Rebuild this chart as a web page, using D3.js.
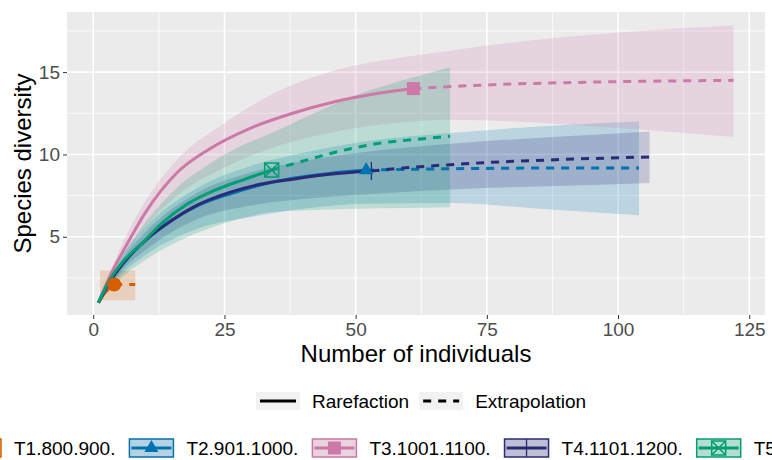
<!DOCTYPE html>
<html>
<head>
<meta charset="utf-8">
<script src="https://cdn.jsdelivr.net/npm/d3@7"></script>
<style>
  body { margin: 0; background: #fff; }
  text { font-family: "Liberation Sans", Arial, sans-serif; }
</style>
</head>
<body>
<svg id="chart" width="772" height="460"></svg>
<script>
var groups = ['T1.800.900.', 'T2.901.1000.', 'T3.1001.1100.', 'T4.1101.1200.', 'T5.1201.1300.'];
var colors = ['#D55E00', '#0072B2', '#CC79A7', '#2B2A78', '#009E73'];
var shapes = ['circle', 'triangle', 'square', 'plus', 'squareCross'];
var methods = ['Rarefaction', 'Extrapolation'];
var xTicks = [0, 25, 50, 75, 100, 125];
var yTicks = [5, 10, 15];

// [individuals, diversity]
var t1Rare = [[1, 1], [2, 1.5], [3, 1.85], [4, 2.1]];
var t2Rare = [[1, 1], [3, 2.2], [6, 3.5], [10, 4.8], [15, 6.0], [20, 6.9], [26, 7.6], [32, 8.15], [38, 8.55], [45, 8.85], [52, 9.05]];
var t3Rare = [[1, 1], [3, 2.5], [6, 4.3], [10, 6.5], [16, 8.9], [22, 10.3], [30, 11.6], [38, 12.5], [46, 13.2], [54, 13.7], [61, 14.0]];
var t4Rare = [[1, 1], [3, 2.2], [6, 3.5], [10, 4.8], [15, 6.0], [20, 6.95], [26, 7.7], [32, 8.2], [38, 8.5], [45, 8.8], [53, 9.0]];
var t5Rare = [[1, 1], [3, 2.3], [6, 3.6], [9, 4.5], [13, 5.8], [18, 7.0], [23, 7.8], [28, 8.4], [34, 9.05]];

var t1Extra = [[4, 2.1], [6, 2.1], [8, 2.1]];
var t2Extra = [[52, 9.05], [65, 9.12], [78, 9.16], [91, 9.18], [104, 9.18]];
var t3Extra = [[61, 14.0], [70, 14.15], [80, 14.28], [90, 14.36], [100, 14.42], [110, 14.46], [122, 14.5]];
var t4Extra = [[53, 9.0], [60, 9.2], [70, 9.42], [80, 9.58], [90, 9.7], [106, 9.85]];
var t5Extra = [[34, 9.05], [40, 9.6], [49, 10.35], [55, 10.7], [61, 10.9], [68, 11.1]];

// [individuals, lower, upper]
var t1Band = [[1.3, 1.15, 2.95], [8, 1.15, 2.95]];
var t2Band = [[1, 1, 1], [5, 2.6, 3.6], [10, 3.9, 5.6], [20, 5.5, 8.0], [30, 6.2, 9.3], [40, 6.7, 10.1], [52, 7.0, 10.8], [68, 7.05, 11.3], [85, 6.7, 11.7], [104, 6.3, 12.0]];
var t3Band = [[1, 1, 1], [5, 3.4, 4.2], [10, 5.6, 7.2], [16, 7.5, 9.7], [25, 9.2, 11.9], [35, 10.5, 13.8], [45, 11.3, 15.0], [61, 12.0, 16.0], [68, 12.1, 16.3], [80, 12.0, 16.8], [100, 11.6, 17.4], [122, 11.06, 17.85]];
var t4Band = [[1, 1, 1], [5, 2.8, 3.4], [10, 4.2, 5.3], [20, 6.1, 7.7], [30, 6.9, 8.9], [40, 7.3, 9.6], [53, 7.6, 10.2], [70, 7.9, 10.7], [90, 8.1, 11.1], [106, 8.27, 11.4]];
var t5Band = [[1, 1, 1], [5, 2.4, 3.5], [10, 3.6, 5.9], [16, 4.7, 8.0], [22, 5.5, 9.4], [28, 6.1, 10.5], [34, 6.5, 11.3], [40, 6.6, 12.2], [50, 6.7, 13.6], [60, 6.75, 14.6], [68, 6.8, 15.3]];

var rareData = [t1Rare, t2Rare, t3Rare, t4Rare, t5Rare];
var extraData = [t1Extra, t2Extra, t3Extra, t4Extra, t5Extra];
var bandData = [t1Band, t2Band, t3Band, t4Band, t5Band];

var svg = d3.select('#chart');
var panel = { left: 67, top: 12, right: 765, bottom: 315 };

var x = d3.scaleLinear().domain([-5, 128]).range([panel.left, panel.right]);
var y = d3.scaleLinear().domain([0.25, 18.65]).range([panel.bottom, panel.top]);

svg.append('rect')
  .attr('x', panel.left).attr('y', panel.top)
  .attr('width', panel.right - panel.left).attr('height', panel.bottom - panel.top)
  .attr('fill', '#EBEBEB');

// minor grid sits halfway between major breaks (ggplot style)
var xMinor = d3.pairs(xTicks).map(function (p) { return (p[0] + p[1]) / 2; });
var yMinor = [yTicks[0] - 2.5].concat(d3.pairs(yTicks).map(function (p) { return (p[0] + p[1]) / 2; }), [yTicks[yTicks.length - 1] + 2.5]);

var grid = svg.append('g');
grid.selectAll('.xminor').data(xMinor).enter().append('line')
  .attr('x1', x).attr('x2', x).attr('y1', panel.top).attr('y2', panel.bottom)
  .attr('stroke', '#fff').attr('stroke-width', 0.8);
grid.selectAll('.yminor').data(yMinor).enter().append('line')
  .attr('y1', y).attr('y2', y).attr('x1', panel.left).attr('x2', panel.right)
  .attr('stroke', '#fff').attr('stroke-width', 0.8);
grid.selectAll('.xmajor').data(xTicks).enter().append('line')
  .attr('x1', x).attr('x2', x).attr('y1', panel.top).attr('y2', panel.bottom)
  .attr('stroke', '#fff').attr('stroke-width', 1.6);
grid.selectAll('.ymajor').data(yTicks).enter().append('line')
  .attr('y1', y).attr('y2', y).attr('x1', panel.left).attr('x2', panel.right)
  .attr('stroke', '#fff').attr('stroke-width', 1.6);

var area = d3.area()
  .x(function (d) { return x(d[0]); })
  .y0(function (d) { return y(d[1]); })
  .y1(function (d) { return y(d[2]); })
  .curve(d3.curveMonotoneX);

var line = d3.line()
  .x(function (d) { return x(d[0]); })
  .y(function (d) { return y(d[1]); })
  .curve(d3.curveMonotoneX);

svg.append('g').selectAll('path').data(bandData).enter().append('path')
  .attr('d', area)
  .attr('fill', function (d, i) { return colors[i]; })
  .attr('fill-opacity', 0.2);

svg.append('g').selectAll('path').data(rareData).enter().append('path')
  .attr('d', line)
  .attr('fill', 'none')
  .attr('stroke', function (d, i) { return colors[i]; })
  .attr('stroke-width', 3);

svg.append('g').selectAll('path').data(extraData).enter().append('path')
  .attr('d', line)
  .attr('fill', 'none')
  .attr('stroke', function (d, i) { return colors[i]; })
  .attr('stroke-width', 3)
  .attr('stroke-dasharray', '8,7');

function drawMarker(g, shape, color) {
  if (shape === 'circle') {
    g.append('circle').attr('r', 7).attr('fill', color);
  } else if (shape === 'triangle') {
    g.append('path').attr('d', d3.symbol(d3.symbolTriangle, 85)()).attr('fill', color);
  } else if (shape === 'square') {
    g.append('rect').attr('x', -6.5).attr('y', -6.5).attr('width', 13).attr('height', 13).attr('fill', color);
  } else if (shape === 'plus') {
    g.append('path').attr('d', 'M-8,0H8M0,-9V9').attr('stroke', color).attr('stroke-width', 1.3);
  } else {
    g.append('path')
      .attr('d', 'M-7,-7H7V7H-7ZM-7,-7L7,7M7,-7L-7,7')
      .attr('fill', 'none').attr('stroke', color).attr('stroke-width', 1.5);
  }
}

// observed point = last rarefaction sample; the plus goes underneath the others
var markerOrder = [3, 0, 1, 2, 4];
markerOrder.forEach(function (i) {
  var d = rareData[i];
  var last = d[d.length - 1];
  var g = svg.append('g').attr('transform', 'translate(' + x(last[0]) + ',' + y(last[1]) + ')');
  drawMarker(g, shapes[i], colors[i]);
});

// axes
var xAxis = svg.append('g')
  .attr('transform', 'translate(0,' + panel.bottom + ')')
  .call(d3.axisBottom(x).tickValues(xTicks).tickSize(4).tickPadding(4));
var yAxis = svg.append('g')
  .attr('transform', 'translate(' + panel.left + ',0)')
  .call(d3.axisLeft(y).tickValues(yTicks).tickSize(4).tickPadding(3));
[xAxis, yAxis].forEach(function (a) {
  a.select('.domain').remove();
  a.selectAll('.tick line').attr('stroke', '#333');
  a.selectAll('.tick text')
    .attr('fill', '#4D4D4D')
    .style('font-size', '19px')
    .style('font-family', '"Liberation Sans", Arial, sans-serif');
});

svg.append('text')
  .attr('x', (panel.left + panel.right) / 2).attr('y', 362)
  .attr('text-anchor', 'middle').style('font-size', '24px')
  .text('Number of individuals');

svg.append('text')
  .attr('transform', 'translate(31,' + (panel.top + panel.bottom) / 2 + ') rotate(-90)')
  .attr('text-anchor', 'middle').style('font-size', '24px')
  .text('Species diversity');

// method legend
var keyW = 44;
var legend1 = svg.append('g').attr('transform', 'translate(256,401)');
var cx = 0;
methods.forEach(function (m, i) {
  legend1.append('rect').attr('x', cx).attr('y', -9).attr('width', keyW).attr('height', 18).attr('fill', '#F2F2F2');
  legend1.append('line').attr('x1', cx + 4).attr('x2', cx + keyW - 4)
    .attr('stroke', '#000').attr('stroke-width', 3)
    .attr('stroke-dasharray', i === 1 ? '8,7' : null);
  var t = legend1.append('text').attr('x', cx + keyW + 12).attr('dy', '0.35em')
    .style('font-size', '19px').text(m);
  cx += keyW + 12 + t.node().getComputedTextLength() + 10;
});

// group legend (wider than the page, so it runs off both sides)
var legend2 = svg.append('g').attr('transform', 'translate(-43,448)');
cx = 0;
groups.forEach(function (gname, i) {
  legend2.append('rect').attr('x', cx).attr('y', -9).attr('width', keyW).attr('height', 18)
    .attr('fill', '#F2F2F2');
  legend2.append('rect').attr('x', cx).attr('y', -9).attr('width', keyW).attr('height', 18)
    .attr('fill', colors[i]).attr('fill-opacity', 0.25)
    .attr('stroke', colors[i]).attr('stroke-width', 1.5);
  legend2.append('line').attr('x1', cx + 2).attr('x2', cx + keyW - 2)
    .attr('stroke', colors[i]).attr('stroke-width', 3);
  drawMarker(legend2.append('g').attr('transform', 'translate(' + (cx + keyW / 2) + ',0)'), shapes[i], colors[i]);
  var t = legend2.append('text').attr('x', cx + keyW + 13).attr('dy', '0.35em')
    .style('font-size', '19px').text(gname);
  cx += keyW + 13 + t.node().getComputedTextLength() + 14;
});
</script>
</body>
</html>
